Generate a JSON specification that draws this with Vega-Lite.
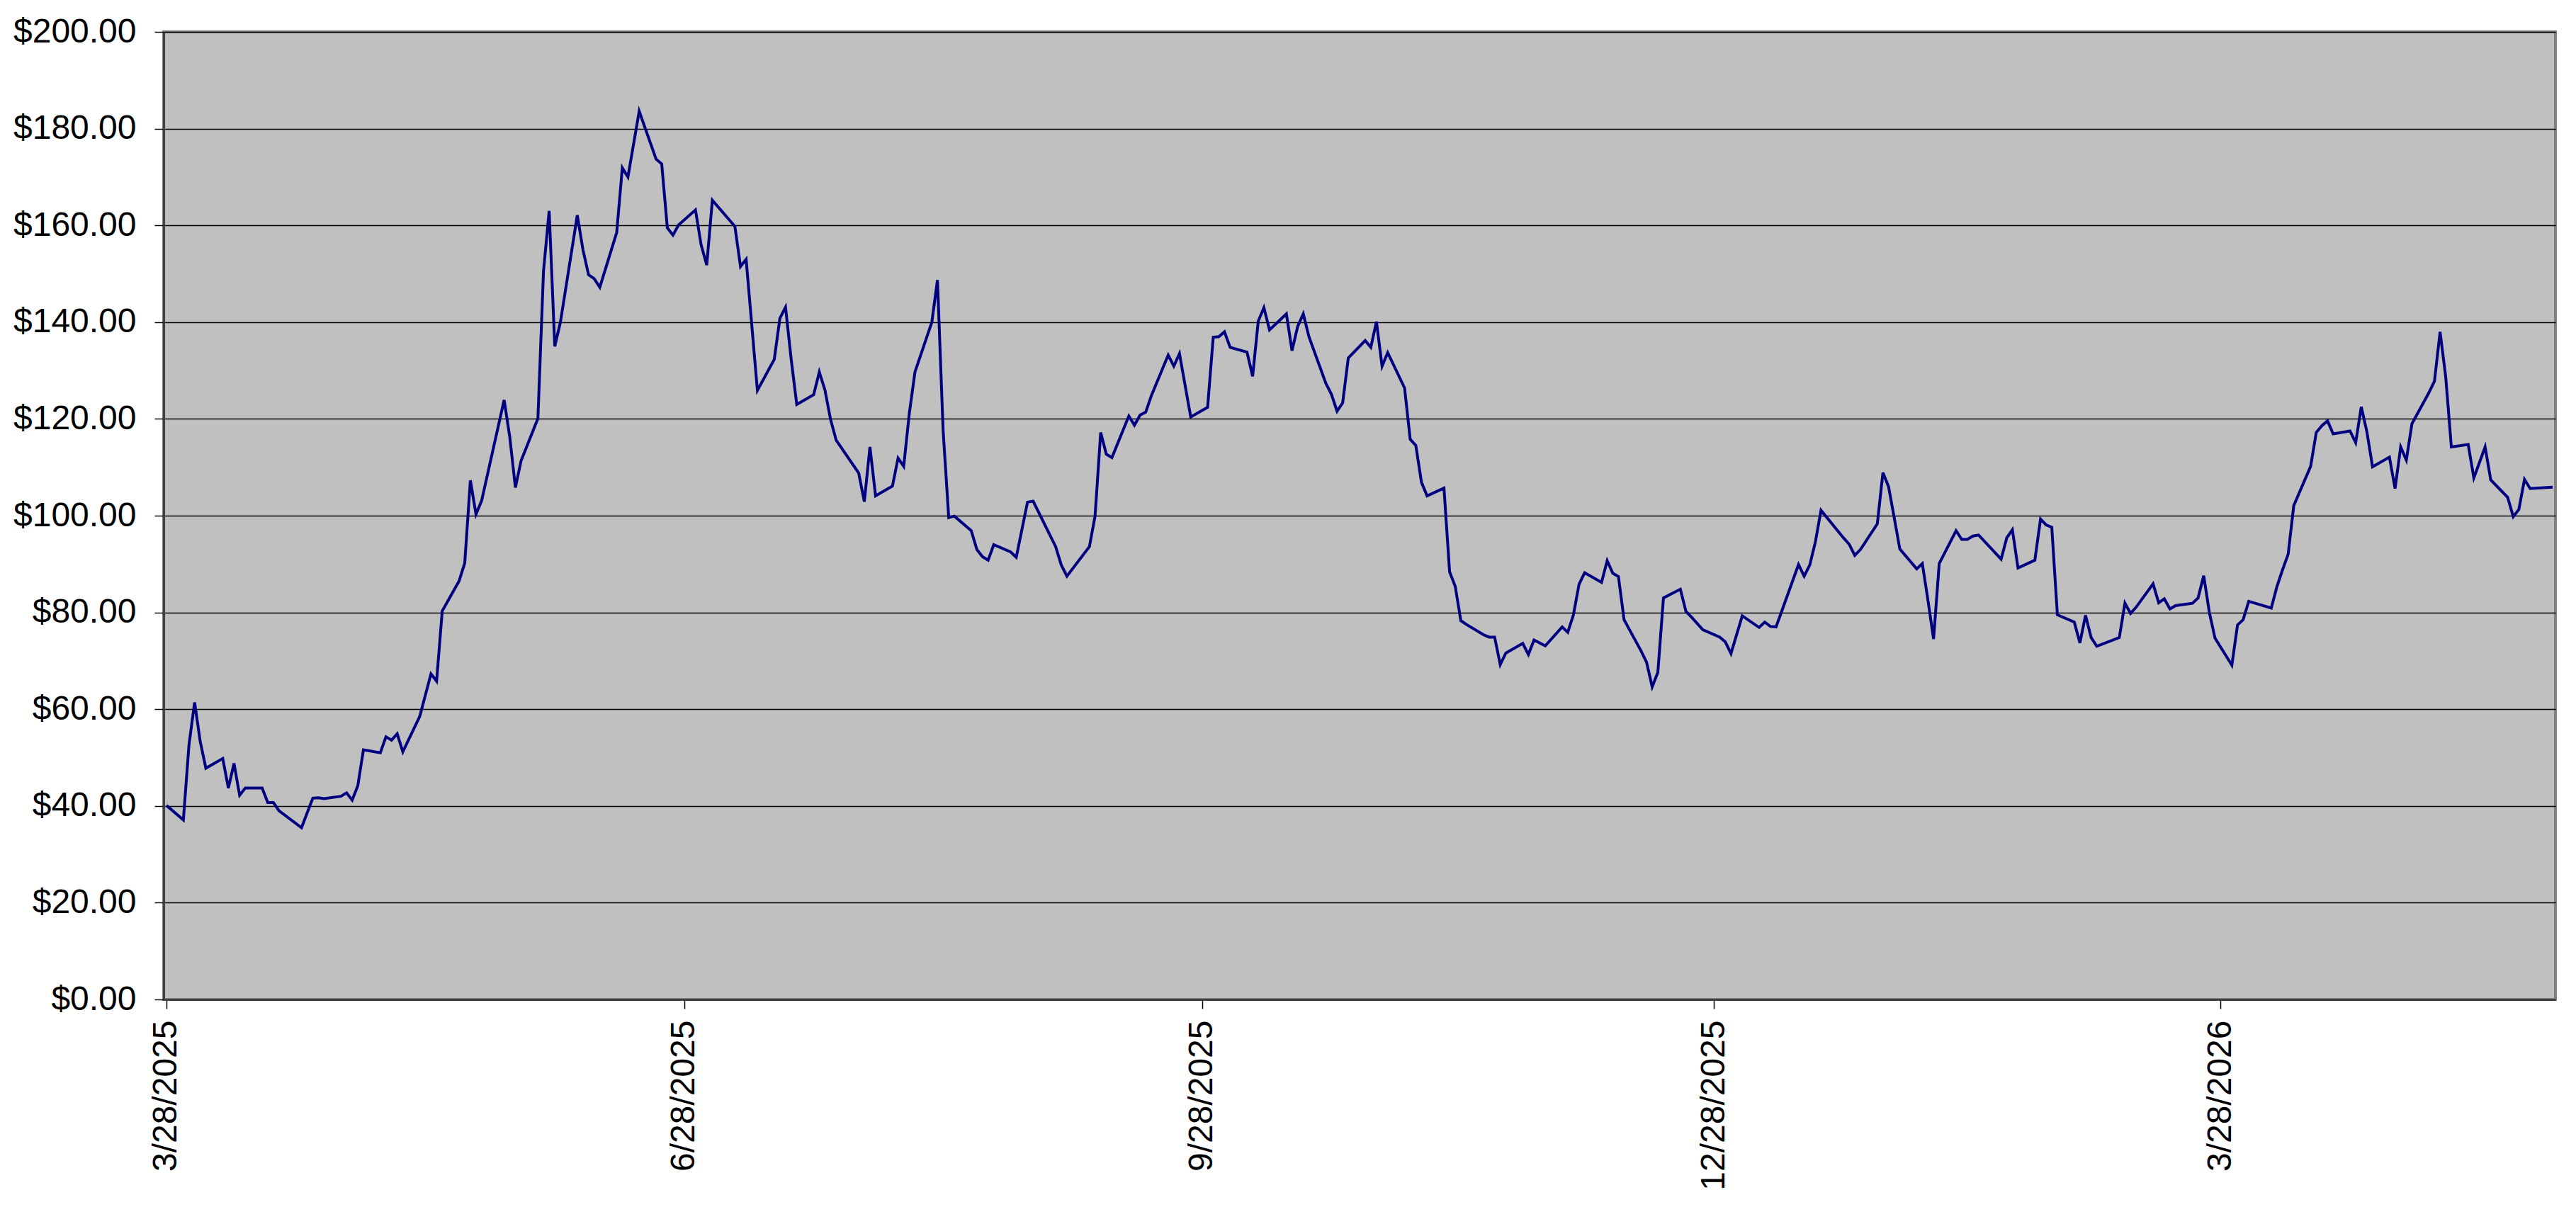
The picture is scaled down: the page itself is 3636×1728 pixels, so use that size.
{
  "$schema": "https://vega.github.io/schema/vega-lite/v6.json",
  "width": 3376,
  "height": 1366,
  "autosize": "none",
  "padding": {"left": 231, "top": 45, "right": 29, "bottom": 317},
  "background": "white",
  "config": {
    "font": "Liberation Sans",
    "view": {"fill": "#C0C0C0", "stroke": "#808080", "strokeWidth": 4}
  },
  "data": {
    "values": [
      {"date": "2025-03-28", "price": 40.1},
      {"date": "2025-03-31", "price": 37.1},
      {"date": "2025-04-01", "price": 52.6},
      {"date": "2025-04-02", "price": 61.4},
      {"date": "2025-04-03", "price": 53.3},
      {"date": "2025-04-04", "price": 47.8},
      {"date": "2025-04-07", "price": 49.8},
      {"date": "2025-04-08", "price": 43.7},
      {"date": "2025-04-09", "price": 48.8},
      {"date": "2025-04-10", "price": 42.2},
      {"date": "2025-04-11", "price": 43.7},
      {"date": "2025-04-14", "price": 43.7},
      {"date": "2025-04-15", "price": 40.7},
      {"date": "2025-04-16", "price": 40.7},
      {"date": "2025-04-17", "price": 39.0},
      {"date": "2025-04-21", "price": 35.5},
      {"date": "2025-04-23", "price": 41.6},
      {"date": "2025-04-24", "price": 41.7},
      {"date": "2025-04-25", "price": 41.5},
      {"date": "2025-04-28", "price": 42.0},
      {"date": "2025-04-29", "price": 42.7},
      {"date": "2025-04-30", "price": 41.2},
      {"date": "2025-05-01", "price": 44.2},
      {"date": "2025-05-02", "price": 51.6},
      {"date": "2025-05-05", "price": 51.0},
      {"date": "2025-05-06", "price": 54.3},
      {"date": "2025-05-07", "price": 53.6},
      {"date": "2025-05-08", "price": 54.9},
      {"date": "2025-05-09", "price": 51.2},
      {"date": "2025-05-12", "price": 58.5},
      {"date": "2025-05-14", "price": 67.3},
      {"date": "2025-05-15", "price": 65.8},
      {"date": "2025-05-16", "price": 80.3},
      {"date": "2025-05-19", "price": 86.5},
      {"date": "2025-05-20", "price": 90.2},
      {"date": "2025-05-21", "price": 107.3},
      {"date": "2025-05-22", "price": 100.3},
      {"date": "2025-05-23", "price": 103.1},
      {"date": "2025-05-27", "price": 123.9},
      {"date": "2025-05-28", "price": 116.3},
      {"date": "2025-05-29", "price": 105.8},
      {"date": "2025-05-30", "price": 111.3},
      {"date": "2025-06-02", "price": 120.1},
      {"date": "2025-06-03", "price": 150.6},
      {"date": "2025-06-04", "price": 163.0},
      {"date": "2025-06-05", "price": 135.0},
      {"date": "2025-06-06", "price": 140.0},
      {"date": "2025-06-09", "price": 162.1},
      {"date": "2025-06-10", "price": 155.0},
      {"date": "2025-06-11", "price": 149.8},
      {"date": "2025-06-12", "price": 149.0},
      {"date": "2025-06-13", "price": 147.2},
      {"date": "2025-06-16", "price": 158.5},
      {"date": "2025-06-17", "price": 171.9},
      {"date": "2025-06-18", "price": 170.0},
      {"date": "2025-06-20", "price": 183.6},
      {"date": "2025-06-23", "price": 173.7},
      {"date": "2025-06-24", "price": 172.7},
      {"date": "2025-06-25", "price": 159.5},
      {"date": "2025-06-26", "price": 158.0},
      {"date": "2025-06-27", "price": 160.1},
      {"date": "2025-06-30", "price": 163.2},
      {"date": "2025-07-01", "price": 156.0},
      {"date": "2025-07-02", "price": 151.8},
      {"date": "2025-07-03", "price": 165.2},
      {"date": "2025-07-07", "price": 159.8},
      {"date": "2025-07-08", "price": 151.5},
      {"date": "2025-07-09", "price": 153.0},
      {"date": "2025-07-11", "price": 125.9},
      {"date": "2025-07-14", "price": 132.3},
      {"date": "2025-07-15", "price": 140.8},
      {"date": "2025-07-16", "price": 143.1},
      {"date": "2025-07-17", "price": 132.4},
      {"date": "2025-07-18", "price": 123.0},
      {"date": "2025-07-21", "price": 125.0},
      {"date": "2025-07-22", "price": 129.7},
      {"date": "2025-07-23", "price": 126.0},
      {"date": "2025-07-24", "price": 119.9},
      {"date": "2025-07-25", "price": 115.6},
      {"date": "2025-07-29", "price": 108.8},
      {"date": "2025-07-30", "price": 102.9},
      {"date": "2025-07-31", "price": 114.2},
      {"date": "2025-08-01", "price": 104.1},
      {"date": "2025-08-04", "price": 106.1},
      {"date": "2025-08-05", "price": 111.9},
      {"date": "2025-08-06", "price": 110.2},
      {"date": "2025-08-07", "price": 121.2},
      {"date": "2025-08-08", "price": 129.7},
      {"date": "2025-08-11", "price": 140.0},
      {"date": "2025-08-12", "price": 148.7},
      {"date": "2025-08-13", "price": 117.7},
      {"date": "2025-08-14", "price": 99.6},
      {"date": "2025-08-15", "price": 99.9},
      {"date": "2025-08-18", "price": 96.9},
      {"date": "2025-08-19", "price": 93.0},
      {"date": "2025-08-20", "price": 91.5},
      {"date": "2025-08-21", "price": 90.8},
      {"date": "2025-08-22", "price": 94.0},
      {"date": "2025-08-25", "price": 92.5},
      {"date": "2025-08-26", "price": 91.4},
      {"date": "2025-08-28", "price": 102.8},
      {"date": "2025-08-29", "price": 103.0},
      {"date": "2025-09-02", "price": 93.6},
      {"date": "2025-09-03", "price": 89.8},
      {"date": "2025-09-04", "price": 87.5},
      {"date": "2025-09-08", "price": 93.6},
      {"date": "2025-09-09", "price": 99.9},
      {"date": "2025-09-10", "price": 117.2},
      {"date": "2025-09-11", "price": 112.7},
      {"date": "2025-09-12", "price": 112.0},
      {"date": "2025-09-15", "price": 120.6},
      {"date": "2025-09-16", "price": 118.7},
      {"date": "2025-09-17", "price": 120.8},
      {"date": "2025-09-18", "price": 121.4},
      {"date": "2025-09-19", "price": 124.8},
      {"date": "2025-09-22", "price": 133.2},
      {"date": "2025-09-23", "price": 130.9},
      {"date": "2025-09-24", "price": 133.5},
      {"date": "2025-09-26", "price": 120.4},
      {"date": "2025-09-29", "price": 122.4},
      {"date": "2025-09-30", "price": 136.9},
      {"date": "2025-10-01", "price": 137.0},
      {"date": "2025-10-02", "price": 138.0},
      {"date": "2025-10-03", "price": 134.8},
      {"date": "2025-10-06", "price": 133.8},
      {"date": "2025-10-07", "price": 128.8},
      {"date": "2025-10-08", "price": 140.2},
      {"date": "2025-10-09", "price": 143.0},
      {"date": "2025-10-10", "price": 138.4},
      {"date": "2025-10-13", "price": 141.7},
      {"date": "2025-10-14", "price": 134.1},
      {"date": "2025-10-15", "price": 139.1},
      {"date": "2025-10-16", "price": 141.7},
      {"date": "2025-10-17", "price": 137.0},
      {"date": "2025-10-20", "price": 127.4},
      {"date": "2025-10-21", "price": 125.1},
      {"date": "2025-10-22", "price": 121.6},
      {"date": "2025-10-23", "price": 123.3},
      {"date": "2025-10-24", "price": 132.6},
      {"date": "2025-10-27", "price": 136.2},
      {"date": "2025-10-28", "price": 134.8},
      {"date": "2025-10-29", "price": 140.1},
      {"date": "2025-10-30", "price": 130.9},
      {"date": "2025-10-31", "price": 133.7},
      {"date": "2025-11-03", "price": 126.4},
      {"date": "2025-11-04", "price": 115.8},
      {"date": "2025-11-05", "price": 114.5},
      {"date": "2025-11-06", "price": 106.9},
      {"date": "2025-11-07", "price": 104.1},
      {"date": "2025-11-10", "price": 105.7},
      {"date": "2025-11-11", "price": 88.4},
      {"date": "2025-11-12", "price": 85.4},
      {"date": "2025-11-13", "price": 78.3},
      {"date": "2025-11-14", "price": 77.5},
      {"date": "2025-11-17", "price": 75.4},
      {"date": "2025-11-18", "price": 74.9},
      {"date": "2025-11-19", "price": 74.9},
      {"date": "2025-11-20", "price": 69.2},
      {"date": "2025-11-21", "price": 71.6},
      {"date": "2025-11-24", "price": 73.6},
      {"date": "2025-11-25", "price": 71.3},
      {"date": "2025-11-26", "price": 74.3},
      {"date": "2025-11-28", "price": 73.1},
      {"date": "2025-12-01", "price": 77.0},
      {"date": "2025-12-02", "price": 75.9},
      {"date": "2025-12-03", "price": 79.5},
      {"date": "2025-12-04", "price": 85.8},
      {"date": "2025-12-05", "price": 88.2},
      {"date": "2025-12-08", "price": 86.2},
      {"date": "2025-12-09", "price": 90.7},
      {"date": "2025-12-10", "price": 88.1},
      {"date": "2025-12-11", "price": 87.4},
      {"date": "2025-12-12", "price": 78.5},
      {"date": "2025-12-15", "price": 72.1},
      {"date": "2025-12-16", "price": 69.7},
      {"date": "2025-12-17", "price": 64.6},
      {"date": "2025-12-18", "price": 67.6},
      {"date": "2025-12-19", "price": 83.0},
      {"date": "2025-12-22", "price": 84.8},
      {"date": "2025-12-23", "price": 80.2},
      {"date": "2025-12-24", "price": 79.0},
      {"date": "2025-12-26", "price": 76.4},
      {"date": "2025-12-29", "price": 74.9},
      {"date": "2025-12-30", "price": 73.9},
      {"date": "2025-12-31", "price": 71.5},
      {"date": "2026-01-02", "price": 79.3},
      {"date": "2026-01-05", "price": 76.9},
      {"date": "2026-01-06", "price": 78.0},
      {"date": "2026-01-07", "price": 77.1},
      {"date": "2026-01-08", "price": 77.0},
      {"date": "2026-01-09", "price": 80.2},
      {"date": "2026-01-12", "price": 89.9},
      {"date": "2026-01-13", "price": 87.5},
      {"date": "2026-01-14", "price": 89.8},
      {"date": "2026-01-15", "price": 94.6},
      {"date": "2026-01-16", "price": 101.1},
      {"date": "2026-01-20", "price": 95.4},
      {"date": "2026-01-21", "price": 94.1},
      {"date": "2026-01-22", "price": 91.8},
      {"date": "2026-01-23", "price": 93.0},
      {"date": "2026-01-26", "price": 98.3},
      {"date": "2026-01-27", "price": 108.9},
      {"date": "2026-01-28", "price": 106.0},
      {"date": "2026-01-29", "price": 99.6},
      {"date": "2026-01-30", "price": 93.1},
      {"date": "2026-02-02", "price": 89.0},
      {"date": "2026-02-03", "price": 90.1},
      {"date": "2026-02-04", "price": 82.5},
      {"date": "2026-02-05", "price": 74.5},
      {"date": "2026-02-06", "price": 90.1},
      {"date": "2026-02-09", "price": 96.9},
      {"date": "2026-02-10", "price": 95.1},
      {"date": "2026-02-11", "price": 95.1},
      {"date": "2026-02-12", "price": 95.8},
      {"date": "2026-02-13", "price": 96.0},
      {"date": "2026-02-17", "price": 91.0},
      {"date": "2026-02-18", "price": 95.4},
      {"date": "2026-02-19", "price": 97.1},
      {"date": "2026-02-20", "price": 89.2},
      {"date": "2026-02-23", "price": 90.8},
      {"date": "2026-02-24", "price": 99.3},
      {"date": "2026-02-25", "price": 98.1},
      {"date": "2026-02-26", "price": 97.6},
      {"date": "2026-02-27", "price": 79.5},
      {"date": "2026-03-02", "price": 78.0},
      {"date": "2026-03-03", "price": 73.7},
      {"date": "2026-03-04", "price": 79.4},
      {"date": "2026-03-05", "price": 74.8},
      {"date": "2026-03-06", "price": 73.0},
      {"date": "2026-03-10", "price": 74.8},
      {"date": "2026-03-11", "price": 81.9},
      {"date": "2026-03-12", "price": 79.8},
      {"date": "2026-03-13", "price": 81.1},
      {"date": "2026-03-16", "price": 85.9},
      {"date": "2026-03-17", "price": 82.0},
      {"date": "2026-03-18", "price": 82.8},
      {"date": "2026-03-19", "price": 80.7},
      {"date": "2026-03-20", "price": 81.4},
      {"date": "2026-03-23", "price": 81.9},
      {"date": "2026-03-24", "price": 83.0},
      {"date": "2026-03-25", "price": 87.6},
      {"date": "2026-03-26", "price": 80.0},
      {"date": "2026-03-27", "price": 74.7},
      {"date": "2026-03-30", "price": 69.1},
      {"date": "2026-03-31", "price": 77.4},
      {"date": "2026-04-01", "price": 78.5},
      {"date": "2026-04-02", "price": 82.3},
      {"date": "2026-04-06", "price": 80.9},
      {"date": "2026-04-07", "price": 85.3},
      {"date": "2026-04-08", "price": 88.8},
      {"date": "2026-04-09", "price": 92.0},
      {"date": "2026-04-10", "price": 102.1},
      {"date": "2026-04-13", "price": 110.2},
      {"date": "2026-04-14", "price": 117.2},
      {"date": "2026-04-15", "price": 118.6},
      {"date": "2026-04-16", "price": 119.6},
      {"date": "2026-04-17", "price": 116.9},
      {"date": "2026-04-20", "price": 117.5},
      {"date": "2026-04-21", "price": 115.1},
      {"date": "2026-04-22", "price": 122.5},
      {"date": "2026-04-23", "price": 117.3},
      {"date": "2026-04-24", "price": 110.1},
      {"date": "2026-04-27", "price": 112.1},
      {"date": "2026-04-28", "price": 105.6},
      {"date": "2026-04-29", "price": 114.2},
      {"date": "2026-04-30", "price": 111.5},
      {"date": "2026-05-01", "price": 119.0},
      {"date": "2026-05-04", "price": 125.4},
      {"date": "2026-05-05", "price": 127.8},
      {"date": "2026-05-06", "price": 138.0},
      {"date": "2026-05-07", "price": 128.7},
      {"date": "2026-05-08", "price": 114.2},
      {"date": "2026-05-11", "price": 114.7},
      {"date": "2026-05-12", "price": 107.8},
      {"date": "2026-05-14", "price": 114.2},
      {"date": "2026-05-15", "price": 107.4},
      {"date": "2026-05-18", "price": 103.8},
      {"date": "2026-05-19", "price": 99.8},
      {"date": "2026-05-20", "price": 101.3},
      {"date": "2026-05-21", "price": 107.5},
      {"date": "2026-05-22", "price": 105.6},
      {"date": "2026-05-26", "price": 105.9}
    ]
  },
  "mark": {"type": "line", "color": "#000080", "strokeWidth": 4},
  "encoding": {
    "x": {
      "field": "date",
      "type": "temporal",
      "scale": {
        "type": "utc",
        "domain": [
          {"year": 2025, "month": 3, "date": 27, "hours": 12, "utc": true},
          {"year": 2026, "month": 5, "date": 26, "hours": 12, "utc": true}
        ]
      },
      "axis": {
        "title": null,
        "grid": false,
        "values": [
          {"year": 2025, "month": 3, "date": 28, "utc": true},
          {"year": 2025, "month": 6, "date": 28, "utc": true},
          {"year": 2025, "month": 9, "date": 28, "utc": true},
          {"year": 2025, "month": 12, "date": 28, "utc": true},
          {"year": 2026, "month": 3, "date": 28, "utc": true}
        ],
        "labelExpr": "utcFormat(datum.value, '%-m/%-d/%Y')",
        "labelAngle": 270,
        "labelFontSize": 48,
        "labelColor": "#000000",
        "labelPadding": 16,
        "labelLimit": 0,
        "labelFlush": false,
        "labelOverlap": false,
        "tickSize": 13,
        "tickWidth": 1.5,
        "tickColor": "#000000",
        "domainColor": "#404040",
        "domainWidth": 3
      }
    },
    "y": {
      "field": "price",
      "type": "quantitative",
      "scale": {"domain": [0, 200], "nice": false},
      "axis": {
        "title": null,
        "values": [0, 20, 40, 60, 80, 100, 120, 140, 160, 180, 200],
        "format": "$,.2f",
        "grid": true,
        "gridColor": "#000000",
        "gridWidth": 1.3,
        "labelFontSize": 48,
        "labelColor": "#000000",
        "labelPadding": 26,
        "labelLimit": 0,
        "labelFlush": false,
        "tickSize": 13,
        "tickWidth": 1.5,
        "tickColor": "#000000",
        "domainColor": "#404040",
        "domainWidth": 3
      }
    }
  }
}
